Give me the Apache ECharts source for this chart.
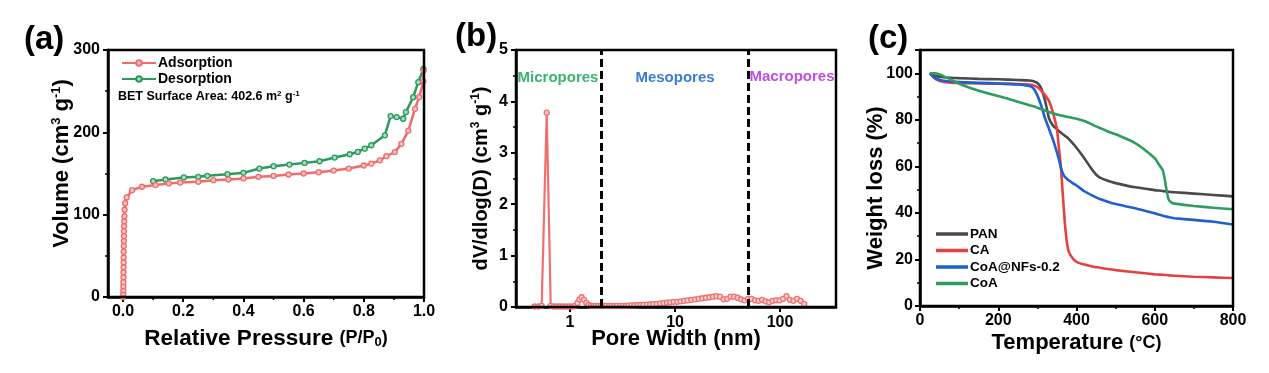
<!DOCTYPE html>
<html><head><meta charset="utf-8">
<script src="https://cdn.jsdelivr.net/npm/echarts@6/dist/echarts.min.js"></script>
<style>html,body{margin:0;padding:0;background:#fff}#c{width:1269px;height:373px}</style>
</head><body><div id="c"></div>
<script>
// ---- (a) N2 isotherm ----
const adsP = [0.0005,0.0008,0.001,0.001,0.0012,0.0015,0.0015,0.0018,0.002,0.002,0.0022,0.0025,0.0028,0.003,0.003,0.0035,0.004,0.0045,0.005,0.007,0.012,0.03,0.063,0.108,0.152,0.19,0.25,0.30,0.35,0.40,0.45,0.50,0.55,0.60,0.65,0.70,0.75,0.80,0.825,0.853,0.875,0.903,0.925,0.948,0.97,0.984,0.998,0.999];
const adsV = [0,4,8,13,18,24,30,36,42,48,55,62,68,74,80,86,92,98,106,114,121,129.8,133.9,135.9,137.9,139,140,141.9,142.7,144,146,147,148.8,150,151.6,153.6,156,159.7,162,166,171,176,186,202,228.6,242.7,262,275];
const desP = [0.1,0.141,0.202,0.25,0.28,0.347,0.40,0.453,0.50,0.553,0.603,0.653,0.703,0.753,0.78,0.803,0.825,0.87,0.889,0.909,0.931,0.94,0.964,0.981,0.998];
const desV = [140.7,142.7,145.2,146,147.2,149.2,150.8,156,158.9,160.9,162.9,164.9,169.4,173.4,176.2,180.2,184.3,196.4,219.8,218.5,216.5,224.6,242.7,260.9,277];
const pressureTicks = [0,0.2,0.4,0.6,0.8,1.0];
const pressureMinorTicks = [0.1,0.3,0.5,0.7,0.9];

// ---- (b) pore size distribution ----
const poreWidth = [0.46,0.50,0.537,0.60,0.655,0.70,0.75,0.80,0.86,0.92,0.98,1.05,1.12,1.18,1.23,1.29,1.36,1.43,1.50,1.58,1.67,1.76,1.86,1.97,2.08,2.2,2.35,2.5,2.65,2.8,3.0,3.2,3.4,3.6,3.85,4.1,4.4,4.7,5.0,5.4,5.8,6.2,6.7,7.2,7.8,8.4,9.0,9.7,10.5,11.3,12.2,13.2,14.3,15.5,16.8,18.2,19.7,21.3,23.0,24.8,26.8,29.0,31.3,33.8,36.5,39.4,42.5,45.9,49.6,53.5,57.8,62.4,67.4,72.8,78.6,84.9,91.7,99.0,107,115,124,134,145,157,170];
const poreDV = [0.01,0.01,0.02,3.78,0.02,0.01,0.01,0.01,0.01,0.01,0.01,0.01,0.02,0.08,0.15,0.19,0.14,0.08,0.04,0.02,0.02,0.02,0.02,0.02,0.02,0.02,0.02,0.02,0.02,0.02,0.02,0.02,0.02,0.025,0.03,0.03,0.035,0.04,0.04,0.045,0.05,0.055,0.06,0.07,0.075,0.085,0.09,0.1,0.1,0.11,0.12,0.13,0.14,0.15,0.16,0.17,0.18,0.19,0.2,0.21,0.2,0.15,0.16,0.2,0.2,0.18,0.15,0.13,0.16,0.16,0.13,0.12,0.14,0.11,0.09,0.12,0.13,0.13,0.16,0.21,0.14,0.12,0.16,0.12,0.06];
const regionNames = ['Micropores','Mesopores','Macropores'];
const regionBounds = [2, 50];

// ---- (c) TGA ----
const temps = [25,40,60,100,150,200,250,280,290,300,310,320,330,340,350,355,360,365,370,375,380,390,400,420,440,450,460,480,500,550,600,610,620,625,630,635,640,650,700,750,800];
const panW = [100,98.8,98.3,97.9,97.6,97.4,97.1,96.9,96.6,95.8,93.5,88,80.5,77.5,76,75.2,74.5,73.8,73.2,72.6,71.8,70,68,63.5,58.5,56.5,55.2,53.8,52.8,51,49.8,49.6,49.4,49.3,49.2,49.1,49,48.9,48.3,47.7,47.1];
const caW = [100,97.5,96.3,95.8,95.6,95.5,95.4,95.2,94.8,94,92.5,90.5,88,83,76,68,60,48,36,28,23.5,20.5,19,17.8,17,16.7,16.4,15.9,15.4,14.5,13.6,13.5,13.4,13.3,13.3,13.2,13.1,13,12.6,12.3,12];
const coaNFsW = [100,97.8,96.8,96.2,95.9,95.6,95.2,94.5,93.5,90.5,86,80.5,76,71.5,66,63,59.5,57,55.5,54.7,54,52.8,51.8,49.3,47.5,46.7,46,44.8,43.8,42,39.8,39.3,38.8,38.6,38.4,38.2,38,37.7,37,36.2,35];
const coaW = [100,100,98.8,95.5,92.5,90.2,87.8,86.3,85.8,85.2,84.6,84,83.4,82.8,82.3,82.1,81.9,81.7,81.5,81.3,81.2,80.8,80.5,79.5,78,77.2,76.5,75,73.8,70,63.5,61,58.5,55,50,46,44.8,44,43,42.2,41.6];
const tgaNames = ['PAN','CA','CoA@NFs-0.2','CoA'];

const FONT = 'Liberation Sans, Arial, sans-serif';
const pair = (xs, ys) => xs.map((x, i) => [x, ys[i]]);

function nameStyle(size, padding) {
  return {color: '#000', fontSize: size, fontWeight: 'bold', fontFamily: FONT, padding: padding || 0,
    rich: {sup: {fontSize: Math.round(size * 0.6), fontWeight: 'bold', fontFamily: FONT, color: '#000', verticalAlign: 'top', padding: [0,0,10,0]},
           sub: {fontSize: 13, fontWeight: 'bold', fontFamily: FONT, color: '#000', padding: [8,0,0,0]},
           sm: {fontSize: Math.round(size * 0.8), fontWeight: 'bold', fontFamily: FONT, color: '#000'}}};
}
function axisBase(extra) {
  return Object.assign({
    axisLine: {show: true, onZero: false, lineStyle: {color: '#000', width: 2.5}},
    axisTick: {show: true, inside: false, length: 5, lineStyle: {color: '#000', width: 2}},
    minorTick: {show: true, splitNumber: 2, length: 3, lineStyle: {color: '#000', width: 1.5}},
    axisLabel: {color: '#000', fontSize: 16, fontWeight: 'bold', fontFamily: FONT},
    splitLine: {show: false},
    nameLocation: 'middle',
    nameMoveOverlap: false
  }, extra);
}

const grids = [
  {left: 108, top: 50, width: 316, height: 247},
  {left: 516, top: 50, width: 320, height: 257},
  {left: 920, top: 50, width: 313, height: 256}
];

const option = {
  animation: false,
  backgroundColor: '#fff',
  grid: grids,
  xAxis: [
    axisBase({gridIndex: 0, type: 'value', position: 'bottom', min: -0.05, max: 1.0,
      name: 'Relative Pressure {sm|(P/P}{sub|0}{sm|)}', nameGap: 30, nameTextStyle: nameStyle(22.5),
      minorTick: {show: false},
      axisTick: {show: true, length: 5, lineStyle: {color: '#000', width: 2}, customValues: pressureTicks},
      axisLabel: {color: '#000', fontSize: 16, fontWeight: 'bold', fontFamily: FONT, margin: 7,
        customValues: pressureTicks, formatter: v => v.toFixed(1)}}),
    axisBase({gridIndex: 1, type: 'log', logBase: 10, min: 0.306, max: 341, position: 'bottom',
      name: 'Pore Width (nm)', nameGap: 21, nameTextStyle: nameStyle(22), minorTick: {show: false},
      axisLabel: {color: '#000', fontSize: 16, fontWeight: 'bold', fontFamily: FONT, margin: 8,
        showMinLabel: false, showMaxLabel: false}}),
    axisBase({gridIndex: 2, type: 'value', min: 0, max: 800, interval: 200, position: 'bottom',
      name: 'Temperature {sm|(\u00B0C)}', nameGap: 26, nameTextStyle: nameStyle(22),
      axisLabel: {color: '#000', fontSize: 16, fontWeight: 'bold', fontFamily: FONT, margin: 7}})
  ],
  yAxis: [
    axisBase({gridIndex: 0, type: 'value', min: 0, max: 300, interval: 100, position: 'left',
      name: 'Volume (cm{sup|3} g{sup|-1})', nameGap: 35, nameTextStyle: nameStyle(22, [0,0,0,20]),
      axisLabel: {color: '#000', fontSize: 16, fontWeight: 'bold', fontFamily: FONT, margin: 8}}),
    axisBase({gridIndex: 1, type: 'value', min: 0, max: 5, interval: 1, position: 'left',
      name: 'dV/dlog(D) (cm{sup|3} g{sup|-1})', nameGap: 24, nameTextStyle: nameStyle(20),
      axisLabel: {color: '#000', fontSize: 16, fontWeight: 'bold', fontFamily: FONT, margin: 8}}),
    axisBase({gridIndex: 2, type: 'value', min: 0, max: 110, interval: 20, position: 'left',
      name: 'Weight loss (%)', nameGap: 33, nameTextStyle: nameStyle(22, [0,20,0,0]),
      axisLabel: {color: '#000', fontSize: 16, fontWeight: 'bold', fontFamily: FONT, margin: 7, showMaxLabel: false}})
  ],
  legend: [
    {left: 116, top: 51, orient: 'vertical', itemWidth: 34, itemHeight: 7, itemGap: 2,
      data: ['Adsorption', 'Desorption'],
      textStyle: {color: '#000', fontSize: 14, fontWeight: 'bold', fontFamily: FONT, padding: [0,0,0,-3]}},
    {left: 931, top: 222, orient: 'vertical', itemWidth: 32, itemHeight: 3.5, itemGap: 2.5, icon: 'rect',
      data: tgaNames,
      textStyle: {color: '#000', fontSize: 13.5, fontWeight: 'bold', fontFamily: FONT, padding: [0,0,0,-3]}}
  ],
  series: [
    {name: 'Adsorption', type: 'line', xAxisIndex: 0, yAxisIndex: 0, data: pair(adsP, adsV),
      symbol: 'circle', symbolSize: 5, showAllSymbol: true,
      lineStyle: {color: '#f06b6b', width: 2.5},
      itemStyle: {color: '#f9c4c4', borderColor: '#f06b6b', borderWidth: 1.3}, z: 3},
    {name: 'Desorption', type: 'line', xAxisIndex: 0, yAxisIndex: 0, data: pair(desP, desV),
      symbol: 'circle', symbolSize: 5, showAllSymbol: true,
      lineStyle: {color: '#2b9a5c', width: 2.5},
      itemStyle: {color: '#a9dcbc', borderColor: '#2b9a5c', borderWidth: 1.3}, z: 2},
    {name: 'PSD', type: 'line', xAxisIndex: 1, yAxisIndex: 1, data: pair(poreWidth, poreDV),
      symbol: 'circle', symbolSize: 5, showAllSymbol: true,
      lineStyle: {color: '#f07070', width: 2.2},
      itemStyle: {color: '#fbd0d0', borderColor: '#f07070', borderWidth: 1.3},
      markLine: {silent: true, symbol: ['none', 'none'], label: {show: false},
        lineStyle: {color: '#000', type: [8, 4], width: 3},
        data: regionBounds.map(v => ({xAxis: v}))}},
    {name: tgaNames[0], type: 'line', xAxisIndex: 2, yAxisIndex: 2, data: pair(temps, panW),
      symbol: 'none', smooth: 0.2, lineStyle: {color: '#4a4a4a', width: 2.6}, itemStyle: {color: '#4a4a4a'}},
    {name: tgaNames[1], type: 'line', xAxisIndex: 2, yAxisIndex: 2, data: pair(temps, caW),
      symbol: 'none', smooth: 0.2, lineStyle: {color: '#e8403f', width: 2.6}, itemStyle: {color: '#e8403f'}},
    {name: tgaNames[2], type: 'line', xAxisIndex: 2, yAxisIndex: 2, data: pair(temps, coaNFsW),
      symbol: 'none', smooth: 0.2, lineStyle: {color: '#1f5fd0', width: 2.6}, itemStyle: {color: '#1f5fd0'}},
    {name: tgaNames[3], type: 'line', xAxisIndex: 2, yAxisIndex: 2, data: pair(temps, coaW),
      symbol: 'none', smooth: 0.2, lineStyle: {color: '#2e9e5e', width: 2.6}, itemStyle: {color: '#2e9e5e'}}
  ],
  graphic: [
    {type: 'text', x: 24, y: 40, style: {text: '(a)', font: 'bold 33px ' + FONT, fill: '#000', verticalAlign: 'middle'}},
    {type: 'text', x: 455, y: 37, style: {text: '(b)', font: 'bold 33px ' + FONT, fill: '#000', verticalAlign: 'middle'}},
    {type: 'text', x: 868, y: 39, style: {text: '(c)', font: 'bold 33px ' + FONT, fill: '#000', verticalAlign: 'middle'}},
    {type: 'text', x: 118, y: 97, style: {text: 'BET Surface Area: 402.6 m{s|2} g{s|-1}',
      font: 'bold 12.5px ' + FONT, fill: '#000', verticalAlign: 'middle',
      rich: {s: {fontSize: 8, fontWeight: 'bold', fontFamily: FONT, fill: '#000', padding: [0,0,7,0]}}}},
    {type: 'text', x: 558, y: 78, style: {text: regionNames[0], font: 'bold 15px ' + FONT, fill: '#3cb371', align: 'center', verticalAlign: 'middle'}},
    {type: 'text', x: 675, y: 78, style: {text: regionNames[1], font: 'bold 15px ' + FONT, fill: '#3a7bd5', align: 'center', verticalAlign: 'middle'}},
    {type: 'text', x: 792, y: 77, style: {text: regionNames[2], font: 'bold 15px ' + FONT, fill: '#c04ee0', align: 'center', verticalAlign: 'middle'}}
  ]
};
const chart = echarts.init(document.getElementById('c'), null, {renderer: 'canvas'});
chart.setOption(option);

// Plot frames and minor ticks of (a), located through the library's own coordinate conversion
const extras = [];
const frameCorners = [
  {grid: 0, x: [-0.05, 1.0], y: [0, 300]},
  {grid: 1, x: [0.306, 341], y: [0, 5]},
  {grid: 2, x: [0, 800], y: [0, 110]}
];
frameCorners.forEach(f => {
  const p0 = chart.convertToPixel({gridIndex: f.grid}, [f.x[0], f.y[1]]);
  const p1 = chart.convertToPixel({gridIndex: f.grid}, [f.x[1], f.y[0]]);
  extras.push({type: 'rect', silent: true, z: 10,
    shape: {x: p0[0], y: p0[1], width: p1[0] - p0[0], height: p1[1] - p0[1]},
    style: {fill: 'none', stroke: '#000', lineWidth: 2.5}});
});
pressureMinorTicks.forEach(v => {
  const p = chart.convertToPixel({gridIndex: 0}, [v, 0]);
  extras.push({type: 'line', silent: true, z: 10,
    shape: {x1: p[0], y1: p[1], x2: p[0], y2: p[1] + 3}, style: {stroke: '#000', lineWidth: 1.5}});
});
chart.setOption({graphic: option.graphic.concat(extras)});
</script></body></html>
